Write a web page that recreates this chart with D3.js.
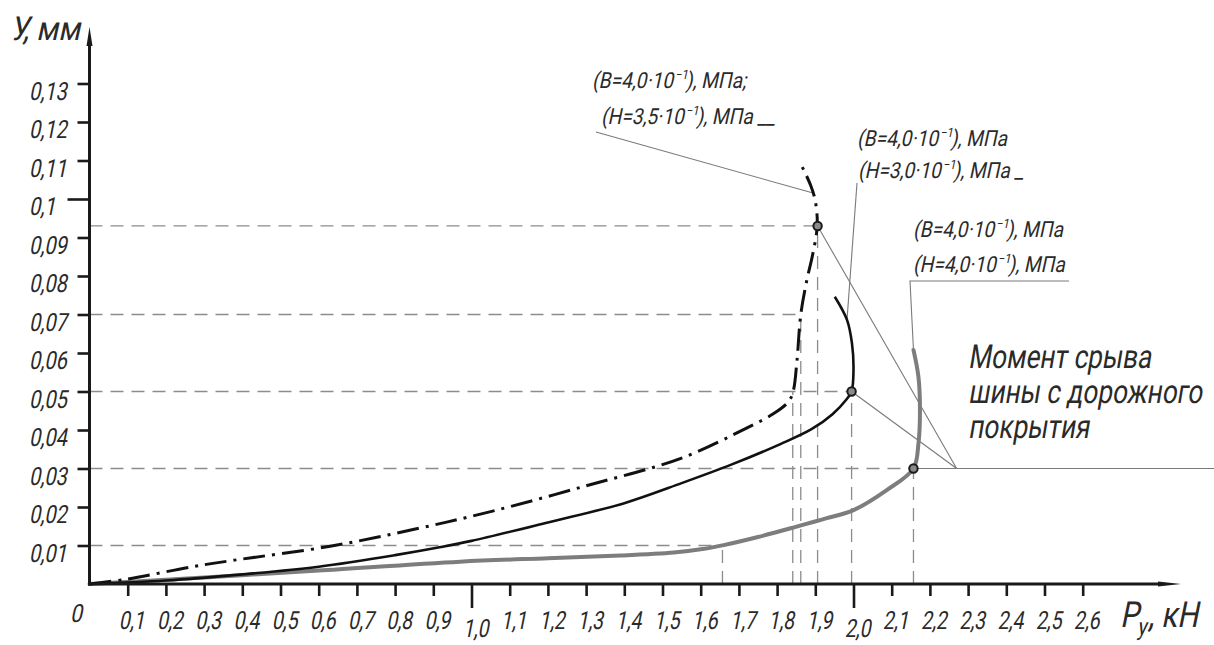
<!DOCTYPE html>
<html>
<head>
<meta charset="utf-8">
<script src="https://cdn.jsdelivr.net/npm/d3@7"></script>
<style>
  html, body { margin: 0; padding: 0; background: #fff; }
  svg { display: block; }
  text { font-family: Roboto, "DejaVu Sans", sans-serif; font-weight: 400; fill: #2a2a2a; }
</style>
</head>
<body>
<svg id="chart" width="1214" height="645"></svg>
<script>
// ---- axis ticks ---------------------------------------------------------
const xTicks = [0.1, 0.2, 0.3, 0.4, 0.5, 0.6, 0.7, 0.8, 0.9, 1.0, 1.1, 1.2, 1.3,
                1.4, 1.5, 1.6, 1.7, 1.8, 1.9, 2.0, 2.1, 2.2, 2.3, 2.4, 2.5, 2.6];
const xTickLabels = ["0,1", "0,2", "0,3", "0,4", "0,5", "0,6", "0,7", "0,8", "0,9", "1,0",
                     "1,1", "1,2", "1,3", "1,4", "1,5", "1,6", "1,7", "1,8", "1,9", "2,0",
                     "2,1", "2,2", "2,3", "2,4", "2,5", "2,6"];
const xMajorTicks = [1.0, 2.0];
const yTicks = [0.01, 0.02, 0.03, 0.04, 0.05, 0.06, 0.07, 0.08, 0.09, 0.1, 0.11, 0.12, 0.13];
const yTickLabels = ["0,01", "0,02", "0,03", "0,04", "0,05", "0,06", "0,07", "0,08", "0,09",
                     "0,1", "0,11", "0,12", "0,13"];
const yMajorTicks = [0.1];

// ---- curves: lateral force Py (kN) vs. displacement y (mm) ---------------
// B = 4,0·10^-1 MPa, H = 3,5·10^-1 MPa (dash-dot)
const curveH35P = [0, 0.1, 0.27, 0.38, 0.63, 0.85, 1.05, 1.3, 1.55, 1.72, 1.79, 1.83, 1.842,
                   1.852, 1.862, 1.878, 1.893, 1.905, 1.9, 1.888, 1.866];
const curveH35Y = [0, 0.0013, 0.0045, 0.0062, 0.0098, 0.0142, 0.0188, 0.0255, 0.0327, 0.0405,
                   0.0442, 0.0474, 0.05, 0.058, 0.07, 0.079, 0.0855, 0.093, 0.0995, 0.1035, 0.1083];
// B = 4,0·10^-1 MPa, H = 3,0·10^-1 MPa (solid black)
const curveH30P = [0, 0.2, 0.4, 0.6, 0.8, 0.92, 1.0, 1.2, 1.4, 1.55, 1.68, 1.81, 1.89, 1.945,
                   1.982, 1.995, 2.0, 1.996, 1.983, 1.951];
const curveH30Y = [0, 0.0009, 0.0025, 0.0045, 0.0075, 0.0096, 0.0112, 0.016, 0.021, 0.0262,
                   0.031, 0.0364, 0.0402, 0.0441, 0.048, 0.05, 0.0556, 0.0625, 0.0686, 0.0746];
// B = 4,0·10^-1 MPa, H = 4,0·10^-1 MPa (thick grey)
const curveH40P = [0, 0.3, 0.6, 0.97, 1.2, 1.39, 1.53, 1.6, 1.66, 1.75, 1.851, 1.93, 2.0,
                   2.087, 2.157, 2.17, 2.174, 2.17, 2.157];
const curveH40Y = [0, 0.0017, 0.0035, 0.0058, 0.0067, 0.0074, 0.0082, 0.009, 0.0101, 0.0122,
                   0.0149, 0.0171, 0.0192, 0.0244, 0.03, 0.0365, 0.0452, 0.0538, 0.0608];

// tyre break-away points
const breakP = [1.906, 1.995, 2.157];
const breakY = [0.093, 0.05, 0.03];

// dashed projection lines
const levelY = [0.093, 0.07, 0.05, 0.03, 0.01];
const levelEndP = [1.906, 1.862, 1.995, 2.157, 1.657];
const dropP = [1.657, 1.841, 1.862, 1.906, 1.995, 2.157];
const dropTopY = [0.01, 0.05, 0.07, 0.093, 0.05, 0.03];

// curve captions
const captionB = ["4,0", "4,0", "4,0"];
const captionH = ["3,5", "3,0", "4,0"];
const noteLines = ["Момент срыва", "шины с дорожного", "покрытия"];
const noteP = 2.27, noteY = 0.03;

// ---- scales -------------------------------------------------------------
const x = d3.scaleLinear().domain([0, 2.6]).range([89.5, 89.5 + 2.6 * 382]);
const y = d3.scaleLinear().domain([0, 0.13]).range([584, 584 - 0.13 * 3850]);

const svg = d3.select("#chart");
const W = 1214;

const zip = (a, b) => a.map((v, i) => [v, b[i]]);
const line = d3.line().x(d => x(d[0])).y(d => y(d[1])).curve(d3.curveCatmullRom.alpha(0.5));

// narrow, slanted drafting-style lettering
function gost(parent, px, py, opts) {
  const o = Object.assign({ size: 24, sx: 0.8, anchor: "start", skew: -14 }, opts);
  const g = parent.append("g");
  const t = g.append("text").attr("font-size", o.size).attr("text-anchor", o.anchor);
  const place = sx => g.attr("transform", `translate(${px},${py}) scale(${sx},1) skewX(${o.skew})`);
  place(o.sx);
  g.fit = w => { const len = t.node().getComputedTextLength(); const s = w / len; place(s); return s; };
  g.text = t;
  return g;
}

function modulus(parent, px, py, letter, value, tail, sx) {
  const g = gost(parent, px, py, { size: 22, sx: sx });
  const t = g.text;
  t.append("tspan").text(`(${letter}=${value}·10`);
  t.append("tspan").attr("font-size", 13).attr("dy", -9).text("−1");
  t.append("tspan").attr("dy", 9).text(`), МПа${tail}`);
  return g;
}

// ---- projection guides ----------------------------------------------------
const guides = svg.append("g").attr("stroke", "#8c8c8c").attr("stroke-width", 1.3)
  .attr("stroke-dasharray", "13,8").attr("fill", "none");
guides.selectAll("line.h").data(zip(levelY, levelEndP)).join("line").attr("class", "h")
  .attr("x1", x(0)).attr("x2", d => x(d[1])).attr("y1", d => y(d[0])).attr("y2", d => y(d[0]));
guides.selectAll("line.v").data(zip(dropP, dropTopY)).join("line").attr("class", "v")
  .attr("x1", d => x(d[0])).attr("x2", d => x(d[0])).attr("y1", y(0)).attr("y2", d => y(d[1]));

// ---- leader lines -----------------------------------------------------------
const leaders = svg.append("g").attr("stroke", "#7a7a7a").attr("stroke-width", 1.1).attr("fill", "none");
// break-away note: rays from each marked point to a common vertex, then a shelf to the edge
breakP.forEach((p, i) => {
  leaders.append("line").attr("x1", x(p)).attr("y1", y(breakY[i]))
    .attr("x2", x(noteP)).attr("y2", y(noteY));
});
leaders.append("line").attr("x1", x(noteP)).attr("y1", y(noteY)).attr("x2", W).attr("y2", y(noteY));
// caption of the dash-dot curve
leaders.append("line").attr("x1", 596).attr("y1", 132)
  .attr("x2", x(1.892)).attr("y2", y(0.1016));
// caption of the solid curve
leaders.append("line").attr("x1", 857).attr("y1", 183)
  .attr("x2", x(1.983)).attr("y2", y(0.0686));
// caption of the grey curve (shelf + leg)
leaders.append("polyline").attr("points",
  `1069,281 910,281 ${x(curveH40P[curveH40P.length - 1])},${y(curveH40Y[curveH40Y.length - 1])}`);

// ---- curves -------------------------------------------------------------------
svg.append("path").datum(zip(curveH40P, curveH40Y)).attr("d", line)
  .attr("fill", "none").attr("stroke", "#7d7d7d").attr("stroke-width", 4).attr("stroke-linecap", "round");
svg.append("path").datum(zip(curveH30P, curveH30Y)).attr("d", line)
  .attr("fill", "none").attr("stroke", "#111").attr("stroke-width", 2.6);
svg.append("path").datum(zip(curveH35P, curveH35Y)).attr("d", line)
  .attr("fill", "none").attr("stroke", "#111").attr("stroke-width", 3)
  .attr("stroke-dasharray", "22,7,3,7");

// ---- axes -------------------------------------------------------------------------
const axisColor = "#1a1a1a";
const gx = svg.append("g").attr("transform", `translate(0,${y(0)})`)
  .call(d3.axisBottom(x).tickValues(xTicks).tickSize(12).tickFormat(""));
gx.select(".domain").remove();
gx.selectAll(".tick line").attr("stroke", axisColor).attr("stroke-width", 2.6)
  .attr("y2", d => xMajorTicks.includes(d) ? 24 : 12);

const gy = svg.append("g").attr("transform", `translate(${x(0)},0)`)
  .call(d3.axisLeft(y).tickValues(yTicks).tickSize(12).tickFormat(""));
gy.select(".domain").remove();
gy.selectAll(".tick line").attr("stroke", axisColor).attr("stroke-width", 2.6)
  .attr("x2", d => yMajorTicks.includes(d) ? -22 : -12);

// axis lines with arrows
svg.append("line").attr("x1", x(0) - 1.5).attr("x2", 1160).attr("y1", y(0)).attr("y2", y(0))
  .attr("stroke", axisColor).attr("stroke-width", 3);
svg.append("path").attr("d", `M1158,${y(0) - 2.5} L1181,${y(0)} L1158,${y(0) + 2.5} Z`).attr("fill", axisColor);
svg.append("line").attr("x1", x(0)).attr("x2", x(0)).attr("y1", y(0) + 1.5).attr("y2", 44)
  .attr("stroke", axisColor).attr("stroke-width", 3);
svg.append("path").attr("d", `M${x(0) - 3},46 L${x(0)},27 L${x(0) + 3},46 Z`).attr("fill", axisColor);

// tick labels
const labels = svg.append("g");
xTicks.forEach((v, i) => {
  const major = xMajorTicks.includes(v);
  gost(labels, x(v) + 4, major ? 637 : 629, { anchor: "middle", size: 25, sx: 0.78 })
    .text.text(xTickLabels[i]);
});
yTicks.forEach((v, i) => {
  gost(labels, 29, y(v) + 16, { size: 25, sx: 0.8 }).text.text(yTickLabels[i]);
});
gost(labels, 70, 622, { size: 25, sx: 0.85 }).text.text("0");

// axis titles
const yTitle = gost(labels, 10, 40, { size: 33 });
yTitle.text.text("У, мм");
yTitle.fit(70);
const xTitle = gost(labels, 1120, 627, { size: 36 });
xTitle.text.append("tspan").text("P");
xTitle.text.append("tspan").attr("font-size", 24).attr("dy", 8).text("у");
xTitle.text.append("tspan").attr("dy", -8).text(", кН");
xTitle.fit(78);

// ---- captions -----------------------------------------------------------------
const cap = svg.append("g");
const probe = modulus(cap, 913, 237, "B", captionB[2], "", 0.8);
const capScale = probe.fit(150);
modulus(cap, 913, 272, "H", captionH[2], "", capScale);

modulus(cap, 592, 88, "B", captionB[0], ";", capScale);
modulus(cap, 601, 124, "H", captionH[0], " __", capScale);

modulus(cap, 857, 146, "B", captionB[1], "", capScale);
modulus(cap, 858, 178, "H", captionH[1], " _", capScale);

const noteG = svg.append("g");
const noteW = gost(noteG, 968, 403, { size: 33, skew: -12 });
noteW.text.text(noteLines[1]);
const noteScale = noteW.fit(234);
gost(noteG, 968, 368, { size: 33, sx: noteScale, skew: -12 }).text.text(noteLines[0]);
gost(noteG, 968, 438, { size: 33, sx: noteScale, skew: -12 }).text.text(noteLines[2]);

// ---- break-away markers ---------------------------------------------------------
svg.append("g").selectAll("circle").data(zip(breakP, breakY)).join("circle")
  .attr("cx", d => x(d[0])).attr("cy", d => y(d[1])).attr("r", 4.2)
  .attr("fill", "#8a8a8a").attr("stroke", "#1a1a1a").attr("stroke-width", 2);
</script>
</body>
</html>
